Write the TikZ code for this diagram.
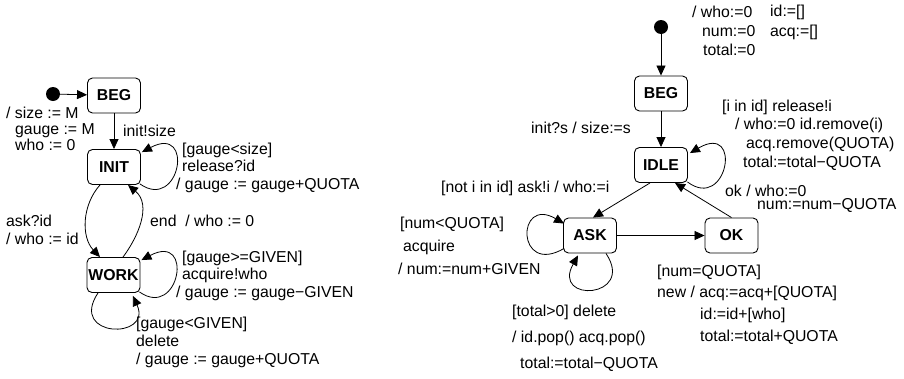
\documentclass[tikz,border=0pt]{standalone}
\usepackage{fontspec}
\setmainfont{Liberation Sans}
\usetikzlibrary{arrows.meta}
\newcommand\lbsize[1]{\fontsize{15.8}{#1}\selectfont}

\begin{document}
\begin{tikzpicture}[x=1pt,y=-1pt,
  state/.style={draw, rounded corners=5pt, minimum width=53pt, minimum height=35pt,
    inner sep=0pt, line width=0.9pt, font=\fontsize{15.8}{18}\selectfont\bfseries},
  arr/.style={-{Triangle[length=10pt,width=9pt]}, line width=0.8pt},
  lbl/.style={anchor=west, align=left, inner sep=0pt, font=\lbsize{#1}},
  lbl/.default=18,
  startdot/.style={circle, fill, inner sep=0pt, minimum size=14pt}]
\useasboundingbox (0,0) rectangle (904,378);

% ---------- resource manager (left) ----------
\node[state] (beg) at (114,95.5) {BEG};
\node[state] (init) at (114,167) {INIT};
\node[state] (work) at (113.5,275) {WORK};
\node[startdot] (s1) at (53,94) {};

\draw[arr] (s1) -- (beg);
\draw[arr] (beg) -- (init);
% self loops
\draw[arr] ([shift={(-1,-1)}]init.south east) .. controls +(40,28) and +(53,-28) .. ([shift={(1,3)}]init.north east);
\draw[arr] ([shift={(-1,-1)}]work.south east) .. controls +(40,28) and +(53,-28) .. ([shift={(1,3)}]work.north east);
\draw[arr] ([xshift=-15.5pt]work.south) .. controls +(-30,45) and +(20,44) .. ([shift={(-7.5,3)}]work.south east);
% INIT <-> WORK
\draw[arr] ([xshift=-14pt]init.south) .. controls +(-18,20) and +(-19,-20) .. ([xshift=-13.5pt]work.north);
\draw[arr] ([xshift=9.5pt]work.north) .. controls +(15,-20) and +(24,20) .. ([xshift=14pt]init.south);

\node[lbl=16] (la) at (6,129) {/ size := M\\\hspace*{9pt}gauge := M\\\hspace*{9pt}who := 0};
\node[lbl] (lb) at (123,131) {init!size};
\node[lbl=17.5] (lc) at (176,167.5) {\hspace*{6pt}[gauge<size]\\\hspace*{6pt}release?id\\/ gauge := gauge+QUOTA};
\node[lbl] (ld) at (6,230) {ask?id\\/ who := id};
\node[lbl] (le) at (150,221) {end\ \ / who := 0};
\node[lbl=17.5] (lf) at (176,275.5) {\hspace*{6pt}[gauge>=GIVEN]\\\hspace*{6pt}acquire!who\\/ gauge := gauge−GIVEN};
\node[lbl] (lg) at (136,342) {[gauge<GIVEN]\\delete\\/ gauge := gauge+QUOTA};

% ---------- client (right) ----------
\node[state] (beg2) at (661,93.5) {BEG};
\node[state] (idle) at (661,165) {IDLE};
\node[state] (ask) at (590,235.5) {ASK};
\node[state] (ok) at (731.5,235.5) {OK};
\node[startdot] (s2) at (661,27) {};

\draw[arr] (s2) -- (beg2);
\draw[arr] (beg2) -- (idle);
\draw[arr] ([xshift=-11pt]idle.south) -- ([xshift=3pt]ask.north);
\draw[arr] (ask) -- (ok);
\draw[arr] (ok.north) -- ([xshift=14pt]idle.south);
% self loops
\draw[arr] ([shift={(-0.5,-1)}]idle.south east) .. controls +(40,30) and +(53,-31) .. ([shift={(2,6)}]idle.north east);
\draw[arr] ([shift={(1,-5)}]ask.south west) .. controls +(-48,28) and +(-48,-28) .. ([shift={(1,6)}]ask.north west);
\draw[arr] ([xshift=16pt]ask.south) .. controls +(30,45) and +(-27,48) .. ([shift={(-12,2)}]ask.south);

\node[lbl=19] (lh) at (692,31) {/ who:=0\\\hspace*{10pt}num:=0\\\hspace*{11pt}total:=0};
\node[lbl=20] (lh2) at (770,22) {id:=[]\\acq:=[]};
\node[lbl] (li) at (531,128) {init?s / size:=s};
\node[lbl=18.7] (lj) at (722,135) {[i in id] release!i\\\hspace*{13pt}/ who:=0 id.remove(i)\\\hspace*{24pt}acq.remove(QUOTA)\\\hspace*{21pt}total:=total−QUOTA};
\node[lbl] (lk) at (441,188) {[not i in id] ask!i / who:=i};
\node[lbl=13] (ll) at (725,199) {ok / who:=0\\\hspace*{32pt}num:=num−QUOTA};
\node[lbl=23] (lm) at (398,246) {\hspace*{2pt}[num<QUOTA]\\\hspace*{5pt}acquire\\/ num:=num+GIVEN};
\node[lbl=26] (ln) at (512,338) {[total>0] delete\\/ id.pop() acq.pop()\\\hspace*{8pt}total:=total−QUOTA};
\node[lbl=21.7] (lo) at (657,304.5) {[num=QUOTA]\\new / acq:=acq+[QUOTA]\\\hspace*{43pt}id:=id+[who]\\\hspace*{43pt}total:=total+QUOTA};
\end{tikzpicture}
\end{document}
